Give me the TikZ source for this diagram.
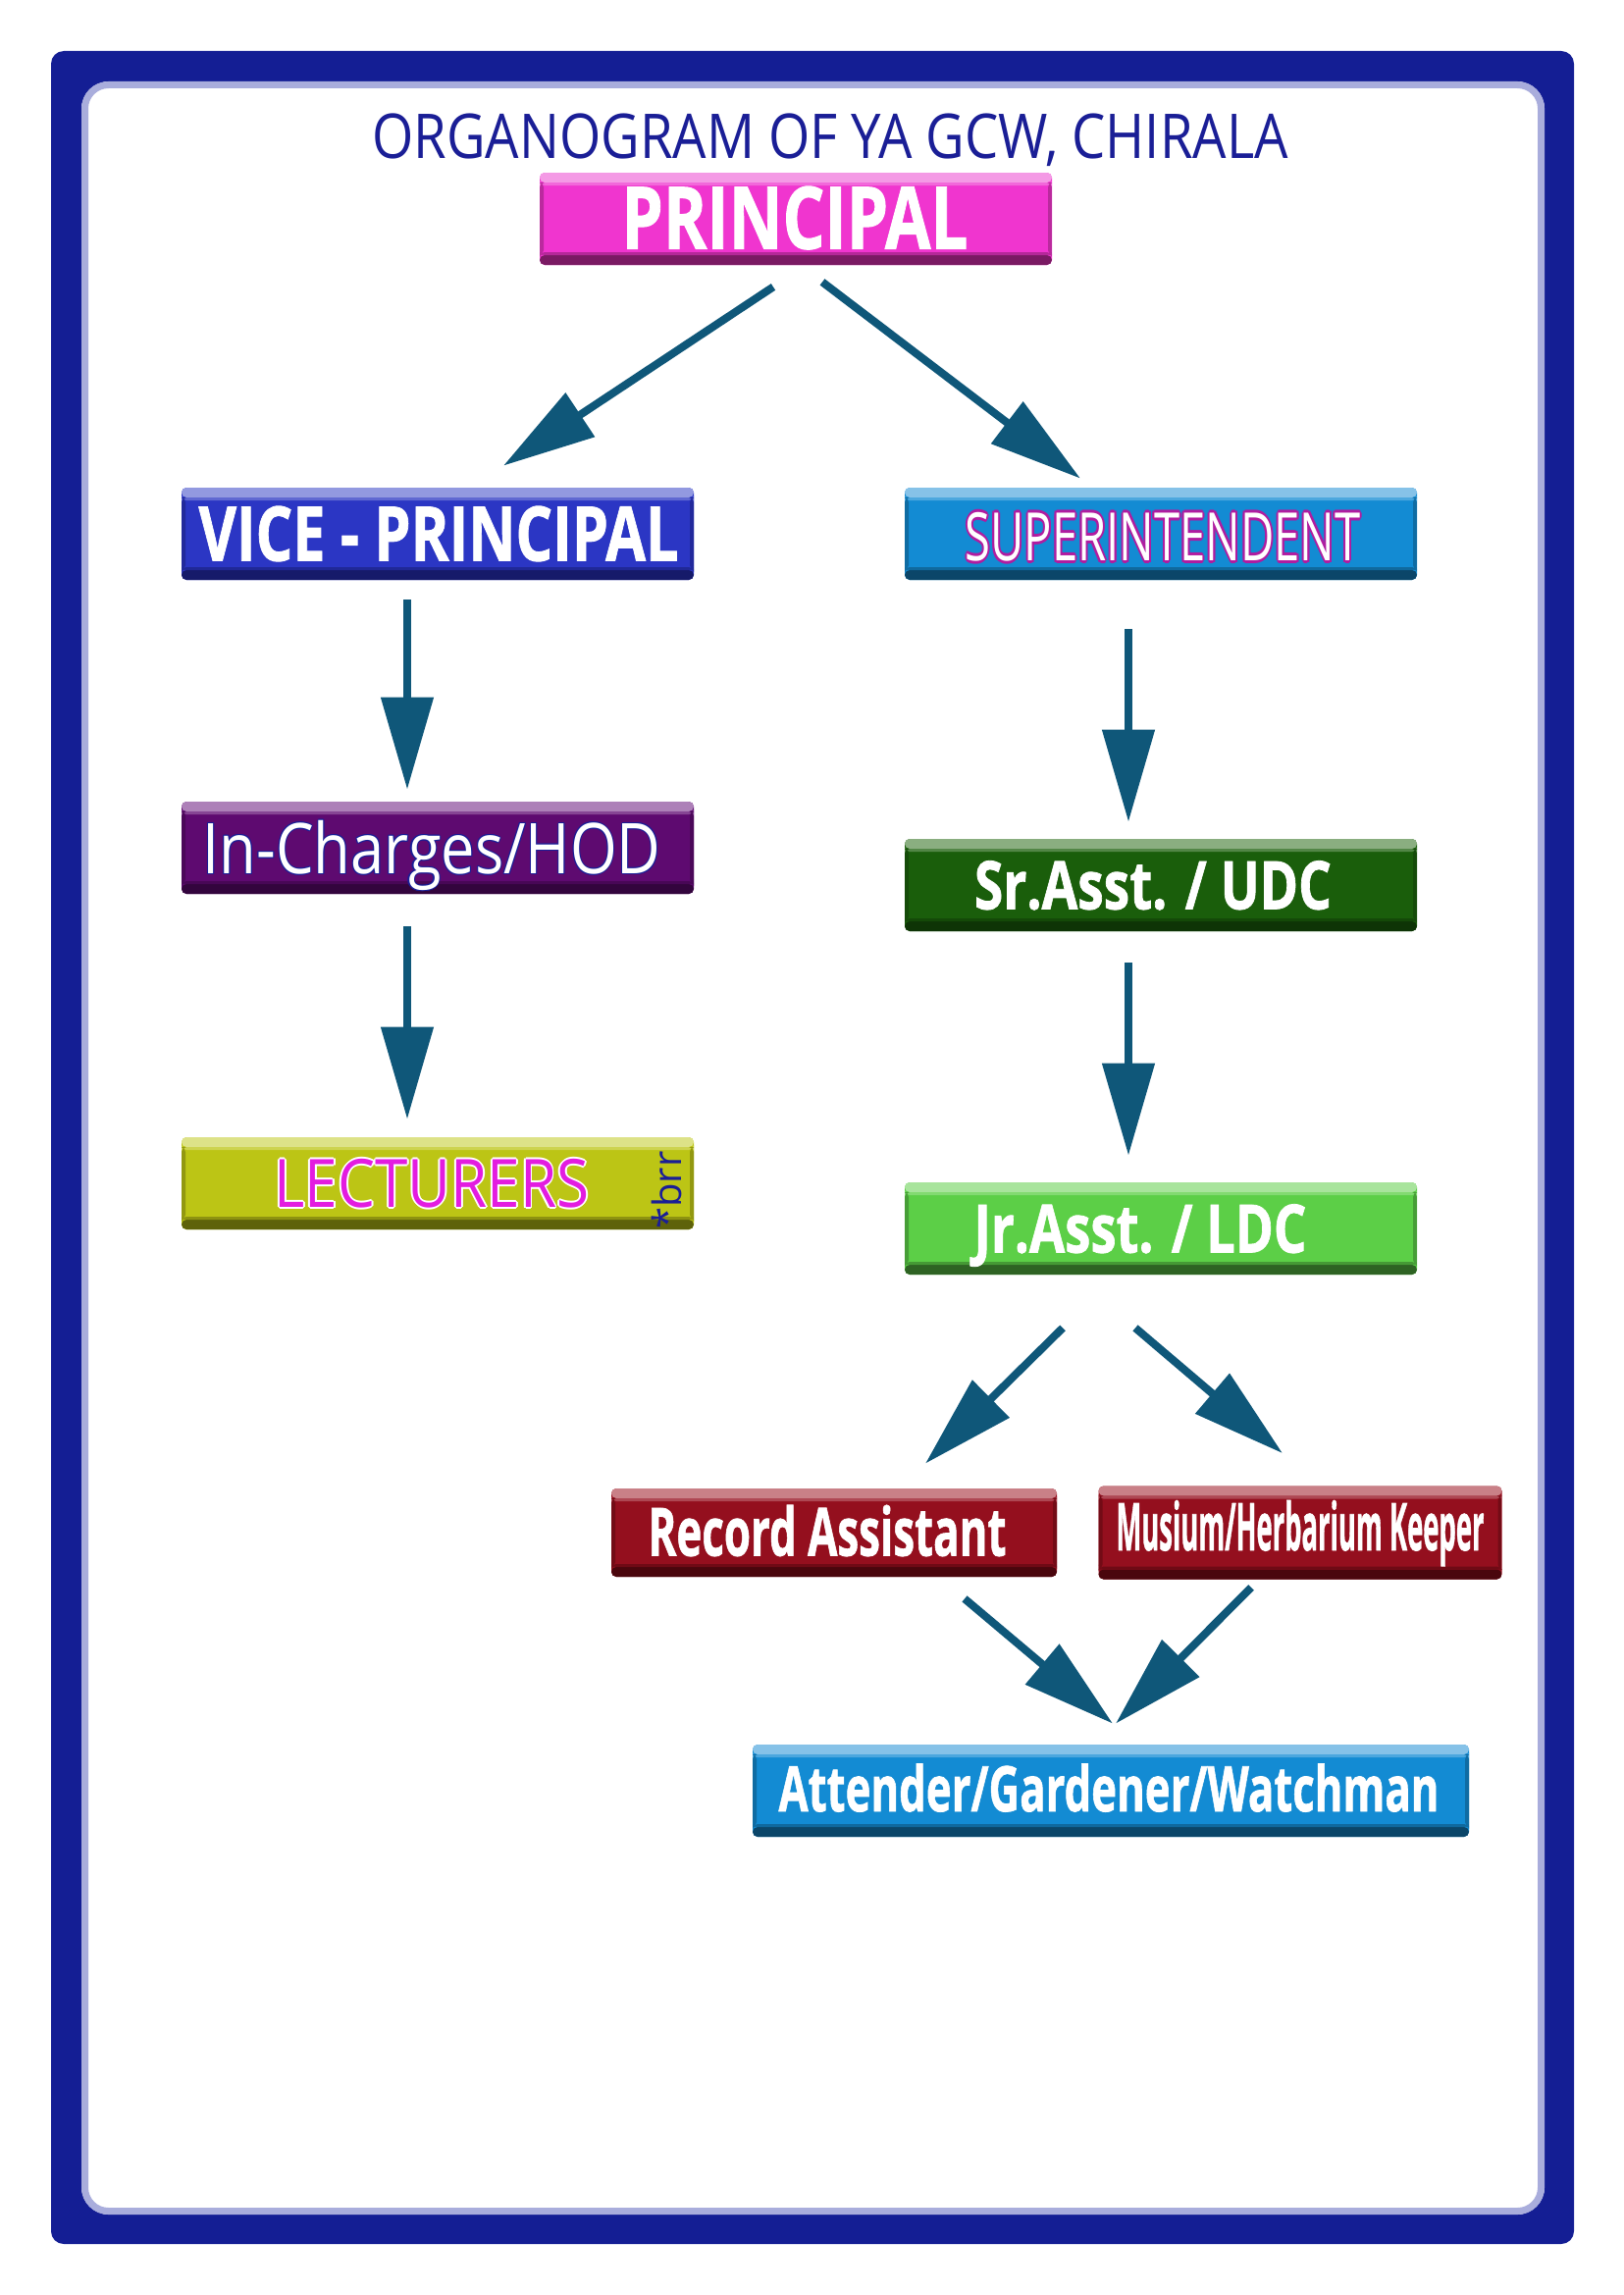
\documentclass[tikz,border=0pt]{standalone}
\usepackage{fontspec}
\setmainfont{Open Sans}
\newfontfamily\heavyfont{Open Sans}[BoldFeatures={FakeBold=1.2}]
\usepackage{graphicx}
\usetikzlibrary{arrows.meta,calc}
\definecolor{framec}{HTML}{141E94}
\definecolor{framel}{HTML}{A9ADDC}
\definecolor{titlec}{HTML}{1A1E96}
\definecolor{arrowc}{HTML}{0F5779}
\definecolor{pmain}{HTML}{F035CF}\definecolor{plight}{HTML}{F49AE5}\definecolor{pdark}{HTML}{7A1A63}
\definecolor{vmain}{HTML}{2B36C4}\definecolor{vlight}{HTML}{9299E0}\definecolor{vdark}{HTML}{161A6A}
\definecolor{smain}{HTML}{138BD3}\definecolor{slight}{HTML}{86C2E8}\definecolor{sdark}{HTML}{0B4669}
\definecolor{imain}{HTML}{5E0A70}\definecolor{ilight}{HTML}{AD80B8}\definecolor{idark}{HTML}{33053D}
\definecolor{lmain}{HTML}{BCC515}\definecolor{llight}{HTML}{DDE288}\definecolor{ldark}{HTML}{5E620A}
\definecolor{gmain}{HTML}{1A5E0B}\definecolor{glight}{HTML}{8AAE80}\definecolor{gdark}{HTML}{0E3406}
\definecolor{jmain}{HTML}{5CCF47}\definecolor{jlight}{HTML}{A8E49C}\definecolor{jdark}{HTML}{2E6323}
\definecolor{rmain}{HTML}{940F1E}\definecolor{rlight}{HTML}{C98087}\definecolor{rdark}{HTML}{4A060D}
\definecolor{smag}{HTML}{B01CA0}
\definecolor{lmag}{HTML}{E31CE0}
\newdimen\olw
\newcommand\outlined[4]{{\olw=#1\relax
\def\oa##1##2{\rlap{\kern##1\raisebox{##2}{\textcolor{#2}{#4}}}}%
\oa{\olw}{0pt}\oa{-\olw}{0pt}\oa{0pt}{\olw}\oa{0pt}{-\olw}%
\oa{.707\olw}{.707\olw}\oa{-.707\olw}{.707\olw}\oa{.707\olw}{-.707\olw}\oa{-.707\olw}{-.707\olw}%
\textcolor{#3}{#4}}}
\newcommand\lab[3]{\resizebox{#2}{\height}{\fontsize{#1}{#1}\selectfont #3}}
\newcommand\hv{\heavyfont\bfseries}
\tikzset{
  box/.style n args={3}{fill=#1, rounded corners=2.5pt, minimum width=261pt, minimum height=47pt, inner sep=0pt,
    path picture={
      \fill[#2] ([yshift=1pt]path picture bounding box.north west) rectangle ([yshift=-5pt]path picture bounding box.north east);
      \fill[#2!50!#1] ([yshift=-5pt]path picture bounding box.north west) rectangle ([yshift=-6.5pt]path picture bounding box.north east);
      \fill[#3] ([yshift=-1pt]path picture bounding box.south west) rectangle ([yshift=5pt]path picture bounding box.south east);
      \fill[#3!50!#1] ([yshift=5pt]path picture bounding box.south west) rectangle ([yshift=6.5pt]path picture bounding box.south east);
      \fill[#3!45!#1] ([yshift=-5pt]path picture bounding box.north west) rectangle ([xshift=2pt,yshift=5pt]path picture bounding box.south west);
      \fill[#3!45!#1] ([yshift=-5pt]path picture bounding box.north east) rectangle ([xshift=-2pt,yshift=5pt]path picture bounding box.south east);
    }},
  lbl/.style={inner sep=0pt, text depth=0pt},
  arr/.style={draw=arrowc, line width=4pt, -{Triangle[length=47pt,width=26pt]}}
}
\begin{document}
\begin{tikzpicture}[x=0.5pt,y=-0.5pt]
\useasboundingbox (0,0) rectangle (1654,2339);
% frame
\fill[framec, even odd rule] [rounded corners=6.5pt] (52,52) rectangle (1604,2287) [rounded corners=14pt] (83,83) rectangle (1574,2257);
\draw[framel, line width=3.5pt, rounded corners=12pt] (86.5,86.5) rectangle (1570.5,2253.5);
% title
\node[lbl, text=titlec, text height=22.5pt] (title) at (846,139) {\lab{31.5pt}{466.5pt}{ORGANOGRAM OF YA GCW, CHIRALA}};
% boxes
\node[box={pmain}{plight}{pdark}] (p) at (811,223) {};
\node[box={vmain}{vlight}{vdark}] (vp) at (446,544) {};
\node[box={smain}{slight}{sdark}] (s) at (1183,544) {};
\node[box={imain}{ilight}{idark}] (ic) at (446,864) {};
\node[box={lmain}{llight}{ldark}] (l) at (446,1206) {};
\node[box={gmain}{glight}{gdark}] (sr) at (1183,902) {};
\node[box={jmain}{jlight}{jdark}] (jr) at (1183,1252) {};
\node[box={rmain}{rlight}{rdark}, minimum width=227pt, minimum height=45pt] (ra) at (850,1562) {};
\node[box={rmain}{rlight}{rdark}, minimum width=205.5pt, minimum height=47.5pt] (mk) at (1325,1562) {};
\node[box={smain}{slight}{sdark}, minimum width=365pt] (a) at (1132,1825) {};
% labels
\node[lbl, text=white, text height=31.5pt] (pt) at (810,222) {\lab{44pt}{176.5pt}{\hv PRINCIPAL}};
\node[lbl, text=white, text height=27.5pt] (vpt) at (447,544) {\lab{38.5pt}{244.5pt}{\hv VICE - PRINCIPAL}};
\node[lbl, text height=24.5pt] (st) at (1185,547) {\lab{34pt}{201.5pt}{\outlined{1.5pt}{smag}{white}{SUPERINTENDENT}}};
\node[lbl, text height=25.5pt] (ict) at (440,865) {\lab{35.7pt}{233.5pt}{\outlined{0.6pt}{titlec}{white}{In-Charges/HOD}}};
\node[lbl, text height=24.5pt] (lt) at (440,1206) {\lab{34pt}{160.5pt}{\outlined{1pt}{white}{lmag}{LECTURERS}}};
\node[inner sep=0pt, rotate=90, text=titlec] (brr) at (679,1213) {\fontsize{20pt}{20pt}\selectfont *brr};
\node[lbl, text=white, text height=24.5pt] (srt) at (1175,902) {\lab{34pt}{182pt}{\hv Sr.Asst. / UDC}};
\node[lbl, text=white, text height=24.5pt] (jrt) at (1162,1252) {\lab{34pt}{169.5pt}{\hv Jr.Asst. / LDC}};
\node[lbl, text=white, text height=24.5pt] (rat) at (843,1561) {\lab{34pt}{182.5pt}{\hv Record Assistant}};
\node[lbl, text=white, text height=24pt] (mkt) at (1325,1556) {\lab{33.6pt}{187.5pt}{\hv Musium/Herbarium Keeper}};
\node[lbl, text=white, text height=23pt] (at) at (1130,1823) {\lab{32pt}{336.5pt}{\hv Attender/Gardener/Watchman}};
% arrows
\draw[arr] ($(p.south)+(-23,22)$) -- ($(vp.north)+(67,-22)$);
\draw[arr] ($(p.south)+(27,17)$) -- ($(s.north)+(-82,-9)$);
\draw[arr] ($(vp.south)+(-31,20)$) -- ($(ic.north)+(-31,-12)$);
\draw[arr] ($(ic.south)+(-31,33)$) -- ($(l.north)+(-31,-18)$);
\draw[arr] ($(s.south)+(-33,50)$) -- ($(sr.north)+(-33,-17)$);
\draw[arr] ($(sr.south)+(-33,32)$) -- ($(jr.north)+(-33,-27)$);
\draw[arr] ($(jr.south)+(-100,54)$) -- ($(ra.north)+(93,-25)$);
\draw[arr] ($(jr.south)+(-26,54)$) -- ($(mk.north)+(-18,-33)$);
\draw[arr] ($(ra.south)+(133,22)$) -- ($(a.north)+(2,-21)$);
\draw[arr] ($(mk.south)+(-50,8)$) -- ($(a.north)+(5,-21)$);
\end{tikzpicture}
\end{document}
